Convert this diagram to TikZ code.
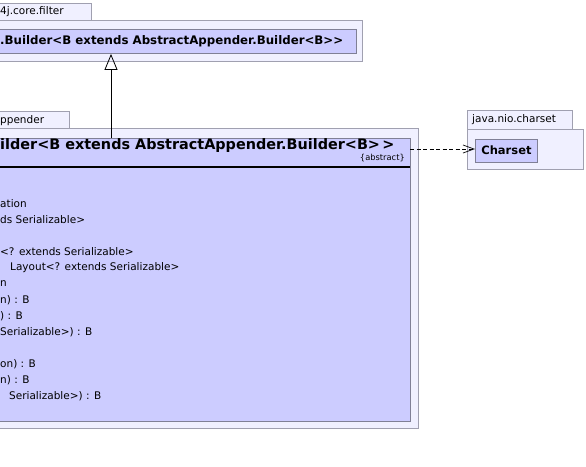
\documentclass[tikz,border=0pt]{standalone}
\usepackage{fontspec}
\setmainfont{DejaVu Sans}
\usetikzlibrary{arrows.meta}
\definecolor{classfill}{RGB}{204,204,255}
\definecolor{pkgfill}{RGB}{240,240,255}
\definecolor{classdraw}{RGB}{128,128,150}
\definecolor{pkgdraw}{RGB}{160,160,176}
\tikzset{
  pkgbox/.style={draw=pkgdraw, fill=pkgfill, line width=0.9pt, inner sep=0pt, anchor=north west},
  classbox/.style={draw=classdraw, fill=classfill, line width=0.9pt, inner sep=0pt, anchor=north west},
  pkglabel/.style={font=\fontsize{10.5}{12}\selectfont, anchor=west, inner sep=0pt},
  bodytext/.style={font=\fontsize{10.5}{12}\selectfont, anchor=west, inner sep=0pt},
  inherit/.style={-{Triangle[open, length=16pt, width=13pt]}, line width=0.8pt, fill=white},
  depend/.style={-{Straight Barb[length=11pt, width=8pt]}, dash pattern=on 4pt off 2.5pt, line width=0.7pt}
}
\begin{document}
\begin{tikzpicture}[x=1pt, y=-1pt]
\useasboundingbox (0,0) rectangle (586,466);
% package org.apache.logging.log4j.core.filter
\node[pkgbox, minimum width=96pt, minimum height=17pt] (filtertab) at (-5,3) {};
\node[pkgbox, minimum width=367pt, minimum height=41pt] (filterpkg) at (-5,20) {};
\node[pkglabel] (filterlbl) at (0,12) {4j.core.filter};
\node[classbox, minimum width=361pt, minimum height=24pt] (filterB) at (-5,29) {};
\node[anchor=west, inner sep=0pt, font=\bfseries\fontsize{11.8}{13}\selectfont] (filterBt) at (0,41) {.Builder<B extends AbstractAppender.Builder<B>{}>};
% package org.apache.logging.log4j.core.appender
\node[pkgbox, minimum width=74pt, minimum height=17pt] (apptab) at (-5,111) {};
\node[pkgbox, minimum width=423pt, minimum height=300pt] (apppkg) at (-5,128) {};
\node[pkglabel] (applbl) at (0,120.5) {ppender};
\node[classbox, minimum width=415pt, minimum height=283pt] (appB) at (-5,138) {};
\node[anchor=west, inner sep=0pt, font=\bfseries\fontsize{14.4}{16}\selectfont] (appBt) at (0,146) {ilder<B extends AbstractAppender.Builder<B>\,>};
\node[anchor=east, inner sep=0pt, font=\fontsize{8.3}{9}\selectfont] (abs) at (405,158.5) {\{abstract\}};
\draw[line width=2pt] (-5,167) -- (410,167);
\node[bodytext] (l1) at (0,204) {ation};
\node[bodytext] (l2) at (0,220) {ds Serializable>};
\node[bodytext] (l3) at (0,252) {<? extends Serializable>};
\node[bodytext] (l4) at (10,268) {Layout<? extends Serializable>};
\node[bodytext] (l5) at (0,284) {n};
\node[bodytext] (l6) at (0,300) {n) : B};
\node[bodytext] (l7) at (0,316) {) : B};
\node[bodytext] (l8) at (0,332) {Serializable>) : B};
\node[bodytext] (l9) at (0,364) {on) : B};
\node[bodytext] (l10) at (0,380) {n) : B};
\node[bodytext] (l11) at (9,396) {Serializable>) : B};
% package java.nio.charset
\node[pkgbox, minimum width=105pt, minimum height=19pt] (nio) at (467,110) {};
\node[pkgbox, minimum width=116pt, minimum height=40pt] (niopkg) at (467,129) {};
\node[pkglabel] (niolbl) at (472,119.5) {java.nio.charset};
\node[classbox, minimum width=62pt, minimum height=23pt] (charset) at (475,138.5) {};
\node[inner sep=0pt, font=\bfseries\fontsize{11.5}{13}\selectfont] (charsett) at (charset.center) {Charset};
% connectors
\coordinate (inhstart) at (111,138);
\draw[inherit] (inhstart) -- (inhstart |- filterB.south);
\coordinate (depstart) at (410,149);
\draw[depend] (depstart) -- (charset.west |- depstart);
\end{tikzpicture}
\end{document}
